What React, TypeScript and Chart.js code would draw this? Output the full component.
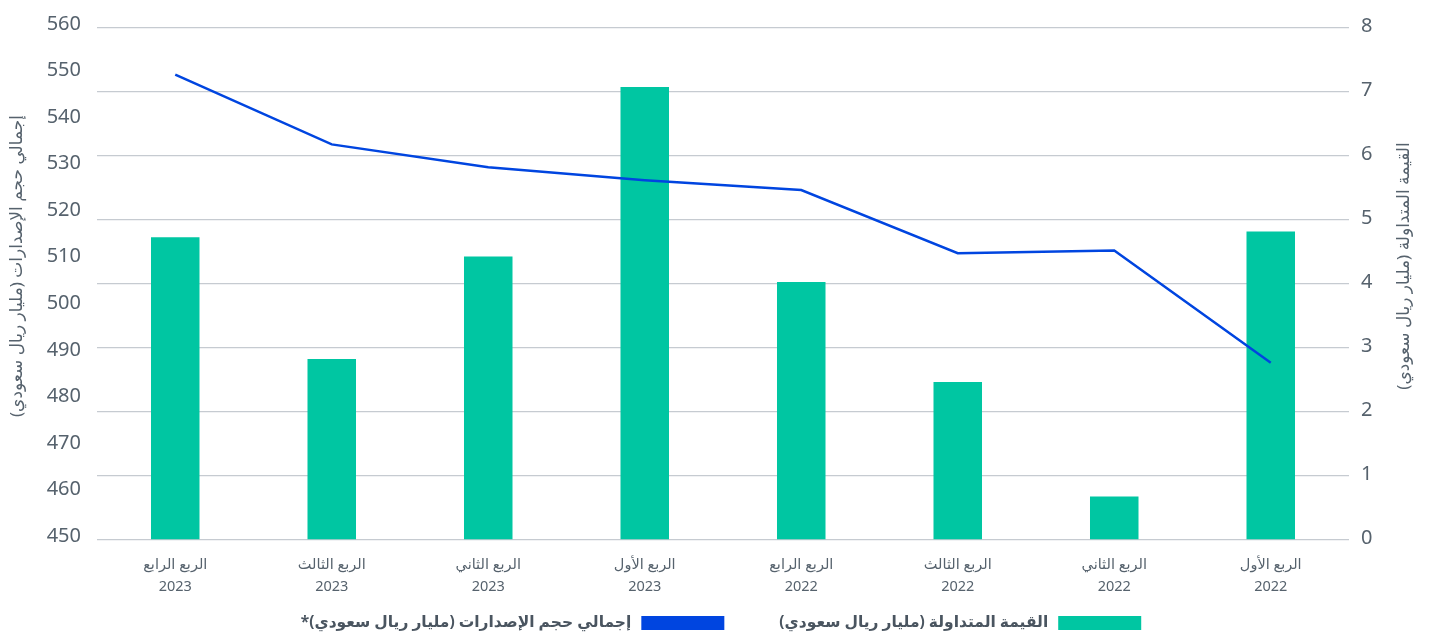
import React, { useEffect, useRef } from 'react';
import { Chart, registerables } from 'chart.js';

Chart.register(...registerables);

const quarterLabels: string[][] = [
  ['الربع الرابع', '2023'],
  ['الربع الثالث', '2023'],
  ['الربع الثاني', '2023'],
  ['الربع الأول', '2023'],
  ['الربع الرابع', '2022'],
  ['الربع الثالث', '2022'],
  ['الربع الثاني', '2022'],
  ['الربع الأول', '2022'],
];

const tradedValue: number[] = [4.73, 2.83, 4.43, 7.08, 4.03, 2.47, 0.68, 4.82];
const totalIssuance: number[] = [550.0, 535.0, 530.1, 527.3, 525.2, 511.6, 512.2, 488.1];

const leftAxisRange: number[] = [450, 560, 10];
const rightAxisRange: number[] = [0, 8, 1];

const tradedLabel = 'القيمة المتداولة (مليار ريال سعودي)';
const issuanceLabel = 'إجمالي حجم الإصدارات (مليار ريال سعودي)*';
const leftTitle = 'إجمالي حجم الإصدارات (مليار ريال سعودي)';
const rightTitle = 'القيمة المتداولة (مليار ريال سعودي)';

const FONT = "'Noto Sans', 'DejaVu Sans', sans-serif";
const TEXT = '#56626d';
const LEGEND_TEXT = '#4a5560';
const GREEN = '#00c6a2';
const BLUE = '#0045e0';

const titlePlugin = {
  id: 'rotatedTitles',
  afterDraw(chart: any) {
    const { ctx } = chart;
    const cy = 266;
    const draw = (text: string, x: number) => {
      ctx.save();
      ctx.translate(x, cy);
      ctx.rotate(-Math.PI / 2);
      ctx.direction = 'rtl';
      ctx.textAlign = 'center';
      ctx.textBaseline = 'middle';
      ctx.fillStyle = TEXT;
      ctx.font = `17px ${FONT}`;
      ctx.fillText(text, 0, 0);
      ctx.restore();
    };
    draw(leftTitle, 17);
    draw(rightTitle, 1404);
  },
};

const rtlLegendPlugin = {
  id: 'rtlLegend',
  afterDraw(chart: any) {
    const { ctx } = chart;
    const datasets = chart.data.datasets;
    const boxW = 83;
    const boxH = 14;
    const gapText = 10;
    const gapItem = 55;
    const y = 623;
    ctx.save();
    ctx.font = `bold 15.5px ${FONT}`;
    ctx.direction = 'rtl';
    const widths = datasets.map((d: any) => ctx.measureText(d.label).width);
    let total = 0;
    widths.forEach((w: number, i: number) => {
      total += boxW + gapText + w + (i > 0 ? gapItem : 0);
    });
    let right = 721 + total / 2;
    datasets.forEach((d: any, i: number) => {
      ctx.fillStyle = d.backgroundColor;
      ctx.fillRect(right - boxW, y - boxH / 2, boxW, boxH);
      const textRight = right - boxW - gapText;
      ctx.fillStyle = LEGEND_TEXT;
      ctx.textAlign = 'right';
      ctx.textBaseline = 'middle';
      ctx.fillText(d.label, textRight, y);
      right = textRight - widths[i] - gapItem;
    });
    ctx.restore();
  },
};

export default function App() {
  const ref = useRef<HTMLCanvasElement | null>(null);
  useEffect(() => {
    document.body.style.margin = '0';
    const canvas = ref.current;
    if (!canvas) return;
    const chart = new Chart(canvas, {
      type: 'bar',
      data: {
        labels: quarterLabels,
        datasets: [
          {
            type: 'bar',
            label: tradedLabel,
            data: tradedValue,
            backgroundColor: GREEN,
            borderWidth: 0,
            yAxisID: 'y1',
            order: 1,
            barPercentage: 0.31,
            categoryPercentage: 1,
          } as any,
          {
            type: 'line',
            label: issuanceLabel,
            data: totalIssuance,
            borderColor: BLUE,
            backgroundColor: BLUE,
            borderWidth: 2.5,
            pointRadius: 0,
            tension: 0,
            yAxisID: 'y',
            order: 0,
          } as any,
        ],
      },
      options: {
        animation: false,
        responsive: false,
        maintainAspectRatio: false,
        layout: { padding: { top: 25, left: 0, right: 0, bottom: 33 } },
        plugins: {
          tooltip: { enabled: false },
          legend: { display: false },
        },
        scales: {
          x: {
            grid: { display: false, drawTicks: false },
            border: { display: false },
            ticks: {
              color: TEXT,
              font: { family: FONT, size: 14.5, lineHeight: 1.5 },
              padding: 14,
              maxRotation: 0,
            },
            afterFit: (s: any) => { s.height = 62; },
          },
          y: {
            position: 'left',
            min: leftAxisRange[0],
            max: leftAxisRange[1],
            grid: { display: false, drawTicks: false },
            border: { display: false },
            ticks: {
              stepSize: leftAxisRange[2],
              color: TEXT,
              font: { family: FONT, size: 20 },
              padding: 16,
              labelOffset: -4,
            },
            afterFit: (s: any) => { s.width = 97; },
          },
          y1: {
            position: 'right',
            min: rightAxisRange[0],
            max: rightAxisRange[1],
            grid: { color: '#c6cbd1', lineWidth: 1.3, drawTicks: false },
            border: { display: false },
            ticks: {
              stepSize: rightAxisRange[2],
              color: TEXT,
              font: { family: FONT, size: 20 },
              padding: 12,
              labelOffset: -2,
            },
            afterFit: (s: any) => { s.width = 82; },
          },
        },
      },
      plugins: [titlePlugin, rtlLegendPlugin],
    });
    return () => chart.destroy();
  }, []);
  return <canvas ref={ref} width={1431} height={635} style={{ display: 'block' }} />;
}
